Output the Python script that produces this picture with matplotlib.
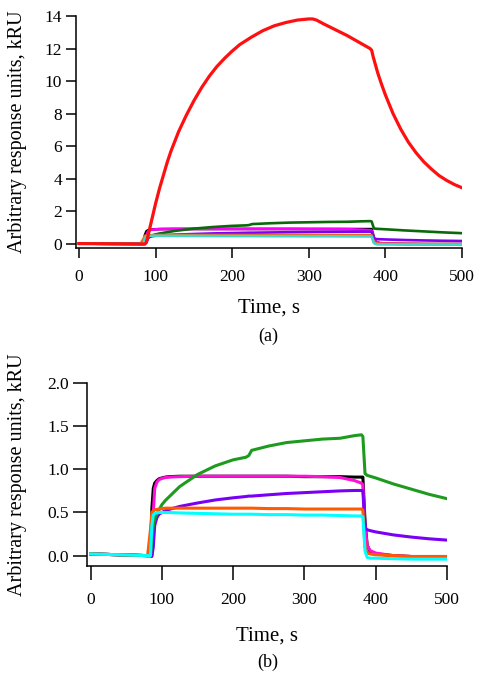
#!/usr/bin/env python3

# Sensorgrams, two panels: (a) all responses, (b) zoom on the small ones

import matplotlib
matplotlib.use('Agg')
import matplotlib.pyplot as plt

# Time grid (s) shared by the small responses
t = [0, 40, 80, 84, 86, 88, 90, 93, 96, 100, 105, 110, 125, 150, 175, 200,
     218, 222, 226, 250, 275, 300, 325, 350, 370, 380, 382, 385, 388, 392,
     400, 425, 450, 475, 500]

black = [0.02, 0.01, 0.0, 0.0, 0.55, 0.78, 0.84, 0.87, 0.89, 0.90, 0.91,
         0.915, 0.92, 0.92, 0.92, 0.92, 0.92, 0.92, 0.92, 0.92, 0.92, 0.915,
         0.915, 0.915, 0.91, 0.91, 0.91, 0.40, 0.12, 0.05, 0.02, 0.0, -0.01,
         -0.01, -0.01]
magenta = [0.02, 0.01, 0.0, 0.0, 0.0, 0.50, 0.78, 0.85, 0.88, 0.895, 0.905,
           0.91, 0.915, 0.92, 0.92, 0.92, 0.92, 0.92, 0.92, 0.92, 0.92, 0.92,
           0.915, 0.905, 0.87, 0.84, 0.82, 0.35, 0.12, 0.06, 0.03, 0.0, -0.01,
           -0.02, -0.02]
purple = [0.02, 0.01, 0.0, 0.0, -0.01, 0.10, 0.35, 0.44, 0.48, 0.50, 0.52,
          0.535, 0.57, 0.61, 0.645, 0.67, 0.685, 0.69, 0.69, 0.705, 0.72,
          0.73, 0.74, 0.75, 0.755, 0.755, 0.75, 0.32, 0.30, 0.29, 0.275, 0.24,
          0.215, 0.195, 0.18]
green = [0.02, 0.01, 0.0, 0.0, 0.20, 0.35, 0.42, 0.48, 0.53, 0.59, 0.64,
         0.68, 0.80, 0.94, 1.04, 1.11, 1.14, 1.16, 1.22, 1.27, 1.31, 1.33,
         1.35, 1.36, 1.39, 1.40, 1.38, 0.95, 0.93, 0.92, 0.90, 0.83, 0.77,
         0.71, 0.66]
orange = [0.02, 0.01, 0.0, 0.30, 0.50, 0.52, 0.53, 0.535, 0.54, 0.545, 0.55,
          0.55, 0.55, 0.55, 0.55, 0.55, 0.55, 0.55, 0.55, 0.545, 0.545, 0.54,
          0.54, 0.54, 0.54, 0.54, 0.53, 0.10, 0.03, 0.02, 0.01, 0.0, -0.01,
          -0.01, -0.01]
cyan = [0.02, 0.01, 0.0, 0.0, 0.35, 0.47, 0.49, 0.495, 0.50, 0.50, 0.50,
        0.50, 0.495, 0.49, 0.485, 0.48, 0.48, 0.48, 0.48, 0.475, 0.475, 0.47,
        0.47, 0.465, 0.46, 0.46, 0.45, 0.05, -0.02, -0.03, -0.03, -0.035,
        -0.04, -0.04, -0.04]

# The big response, only in panel (a)
t_red = [0, 40, 80, 86, 88, 90, 95, 100, 105, 110, 115, 120, 125, 130, 140,
         150, 160, 170, 180, 190, 200, 210, 225, 240, 255, 270, 285, 300, 305,
         310, 320, 335, 350, 365, 380, 382, 384, 387, 390, 395, 400, 410, 420,
         430, 440, 450, 460, 470, 480, 490, 500]
red = [0.02, 0.01, 0.0, 0.0, 0.1, 0.5, 1.5, 2.5, 3.4, 4.2, 5.0, 5.7, 6.3,
       6.9, 7.9, 8.8, 9.6, 10.3, 10.9, 11.4, 11.85, 12.25, 12.7, 13.1, 13.4,
       13.6, 13.75, 13.82, 13.82, 13.75, 13.5, 13.15, 12.8, 12.4, 12.0, 11.9,
       11.5, 11.0, 10.5, 9.8, 9.15, 8.0, 7.05, 6.25, 5.6, 5.05, 4.6, 4.2,
       3.9, 3.65, 3.45]

series = [black, magenta, purple, green, orange, cyan]
colors_a = ['black', '#ff00ff', '#7d00f0', '#0a6a0a', '#f06418', '#40d8c8']
colors_b = ['black', '#ff10d8', '#7a00f5', '#1e9a1e', '#ff5a00', '#00ffff']

plt.rcParams['font.family'] = ['Liberation Serif', 'DejaVu Serif']

fig = plt.figure(figsize=(4.84, 6.79), dpi=100)
W, H = 484.0, 679.0


def panel(rect_px, xlim, ylim, yticks, yfmt, ticklen, xpad, labelpad):
    l, top, r, bot = rect_px
    ax = fig.add_axes([l / W, 1 - bot / H, (r - l) / W, (bot - top) / H])
    ax.set_xlim(*xlim)
    ax.set_ylim(*ylim)
    for s in ['top', 'right']:
        ax.spines[s].set_visible(False)
    for s in ['left', 'bottom']:
        ax.spines[s].set_linewidth(1.1)
    ax.set_xticks([0, 100, 200, 300, 400, 500])
    ax.set_yticks(yticks)
    ax.set_yticklabels([yfmt.format(v) for v in yticks])
    ax.tick_params(direction='out', length=ticklen, width=1.1,
                   labelsize=12.5, pad=3)
    ax.tick_params(axis='x', pad=xpad)
    ax.set_xlabel('Time, s', fontsize=15, labelpad=labelpad)
    ax.set_ylabel('Arbitrary response units, kRU', fontsize=14.5)
    return ax


# Panel (a)
ax1 = panel((76, 16, 462, 248), (-4, 500), (-0.25, 14),
            [0, 2, 4, 6, 8, 10, 12, 14], '{:d}', 7, 8, 10)
for y, c in zip(series, colors_a):
    ax1.plot(t, y, color=c, lw=1.9)
ax1.plot(t_red, red, color='#ff1010', lw=2.3)
ax1.yaxis.set_label_coords(-0.127, 0.5)

# Panel (b)
ax2 = panel((87, 383, 447, 566), (-5, 500), (-0.12, 2.0),
            [0.0, 0.5, 1.0, 1.5, 2.0], '{:.1f}', 10, 9, 13)
for y, c in zip(series, colors_b):
    ax2.plot(t, y, color=c, lw=2.2)
ax2.yaxis.set_label_coords(-0.167, 0.5)

fig.text(268 / W, 1 - 336 / H, '(a)', fontsize=13, ha='center', va='center')
fig.text(268 / W, 1 - 662 / H, '(b)', fontsize=13, ha='center', va='center')

fig.savefig('out.png', dpi=100)
